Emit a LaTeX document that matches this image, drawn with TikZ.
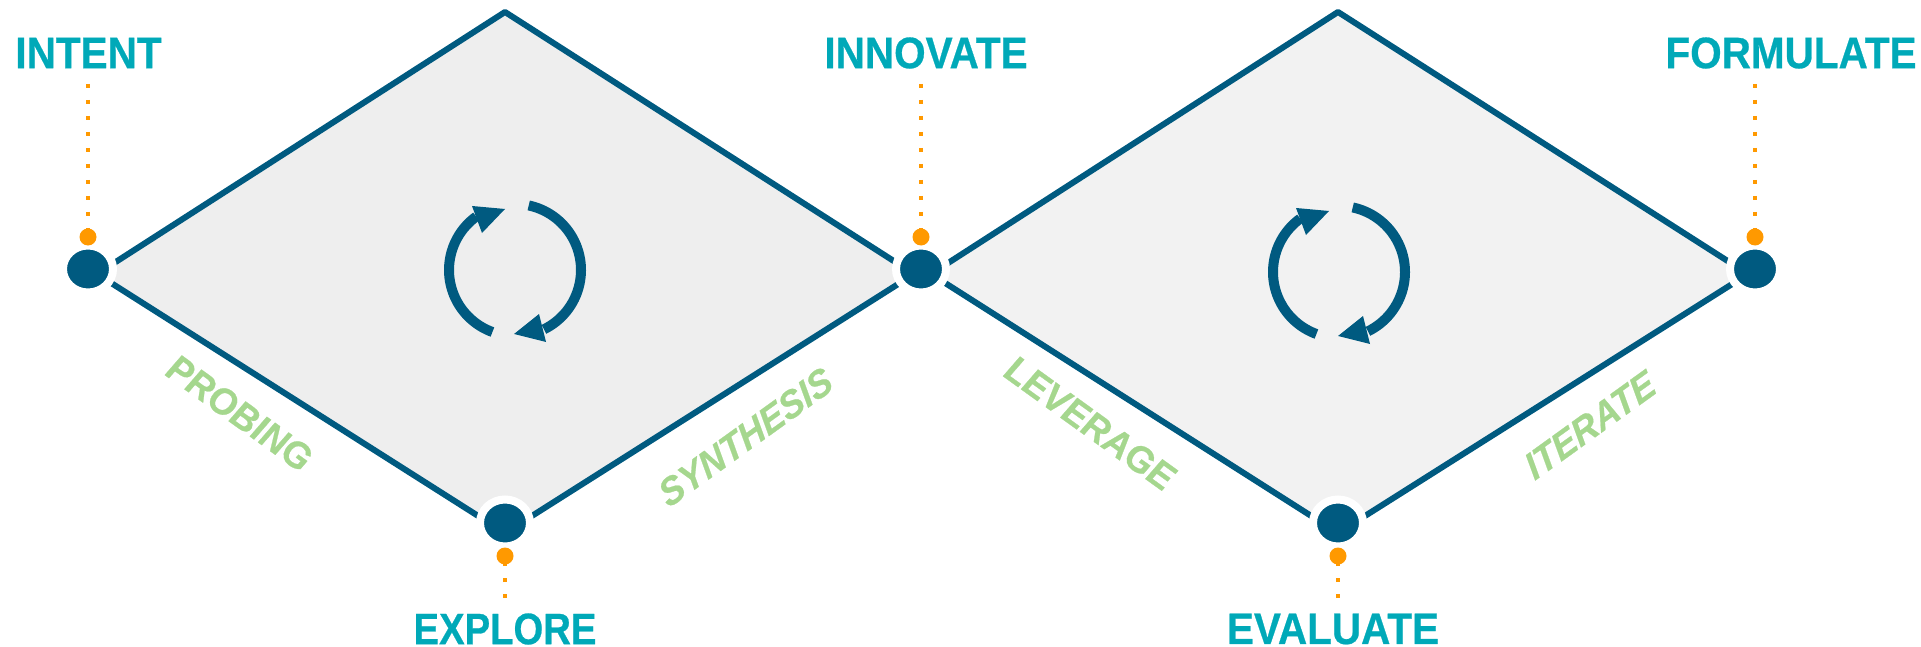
\documentclass[tikz,border=0pt]{standalone}
\usepackage{fontspec}
\setmainfont{Liberation Sans}
\newfontfamily\headfont[FakeBold=0.6]{Liberation Sans Bold}
\newfontfamily\slantfont[FakeBold=0.6]{Liberation Sans Bold Italic}
\usetikzlibrary{shapes.geometric}
\definecolor{navy}{HTML}{005A80}
\definecolor{tealc}{HTML}{00A9B8}
\definecolor{orangec}{HTML}{FF9900}
\definecolor{greenc}{HTML}{A5D78E}
\definecolor{fillone}{HTML}{EEEEEE}
\definecolor{filltwo}{HTML}{F2F2F2}
\tikzset{
  hub/.style={ellipse,fill=navy,draw=white,line width=8pt,minimum width=50pt,minimum height=47pt,inner sep=0pt},
  dotc/.style={circle,fill=orangec,minimum size=17pt,inner sep=0pt},
  title/.style={text=tealc,font=\fontsize{44}{44}\headfont,inner sep=0pt,xscale=.92},
  slant/.style={text=greenc,font=\fontsize{39}{39}\slantfont,inner sep=0pt,xscale=.9},
  rimline/.style={navy,line width=6pt,line join=round},
  dots/.style={orangec,line width=4pt,dash pattern=on 4pt off 12pt},
  cyc/.style={navy,line width=10pt,line join=round},
  tipc/.style={fill=navy}
}
\begin{document}
\begin{tikzpicture}[x=1pt,y=-1pt]
\useasboundingbox (0,0) rectangle (1921,647);
% diamonds
\fill[fillone] (97,274) -- (505,12) -- (914,274) -- (505,533) -- cycle;
\fill[filltwo] (931,274) -- (1338,12) -- (1748,274) -- (1338,533) -- cycle;
\draw[rimline] (97,274) -- (505,12) -- (914,274);
\draw[rimline] (97,274) -- (505,533) -- (914,274);
\draw[rimline] (931,274) -- (1338,12) -- (1748,274);
\draw[rimline] (931,274) -- (1338,533) -- (1748,274);
% hubs
\node[hub] (h1) at (88,269) {};
\node[hub] (h2) at (505,523) {};
\node[hub] (h3) at (921,269) {};
\node[hub] (h4) at (1338,523) {};
\node[hub] (h5) at (1755,269) {};
% orange dots
\node[dotc] (d1) at (88,237) {};
\node[dotc] (d2) at (505,556) {};
\node[dotc] (d3) at (921,237) {};
\node[dotc] (d4) at (1338,556) {};
\node[dotc] (d5) at (1755,237) {};
% titles
\node[title] (t1) at (88.5,53) {INTENT};
\node[title,xscale=.945] (t2) at (505,629) {EXPLORE};
\node[title] (t3) at (926,53) {INNOVATE};
\node[title] (t4) at (1333,629) {EVALUATE};
\node[title] (t5) at (1791,53) {FORMULATE};
% dotted leaders
\coordinate (l1) at (88,84);
\coordinate (l3) at (921,84);
\coordinate (l5) at (1755,84);
\coordinate (l2) at (505,598);
\coordinate (l4) at (1338,598);
\draw[dots] (l1) -- (d1.center);
\draw[dots] (l3) -- (d3.center);
\draw[dots] (l5) -- (d5.center);
\draw[dots] (l2) -- (d2.center);
\draw[dots] (l4) -- (d4.center);
% cycle arrows
\draw[cyc] plot[domain=78:-64,samples=50] ({515+66*cos(\x)},{270-66*sin(\x)});
\draw[cyc] plot[domain=250:126,samples=50] ({515+66*cos(\x)},{270-66*sin(\x)});
\fill[tipc] (472,206) -- (505,209) -- (482,233) -- cycle;
\fill[tipc] (514,334) -- (539,314) -- (546,342) -- cycle;
\begin{scope}[shift={(824,2)}]
\draw[cyc] plot[domain=78:-64,samples=50] ({515+66*cos(\x)},{270-66*sin(\x)});
\draw[cyc] plot[domain=250:126,samples=50] ({515+66*cos(\x)},{270-66*sin(\x)});
\fill[tipc] (472,206) -- (505,209) -- (482,233) -- cycle;
\fill[tipc] (514,334) -- (539,314) -- (546,342) -- cycle;
\end{scope}
% labels
\node[slant,rotate=-33] (s1) at (239.5,413) {PROBING};
\node[slant,rotate=33] (s2) at (745.5,437) {SYNTHESIS};
\node[slant,rotate=-33] (s3) at (1090,423) {LEVERAGE};
\node[slant,rotate=33] (s4) at (1590,425) {ITERATE};
\end{tikzpicture}
\end{document}
